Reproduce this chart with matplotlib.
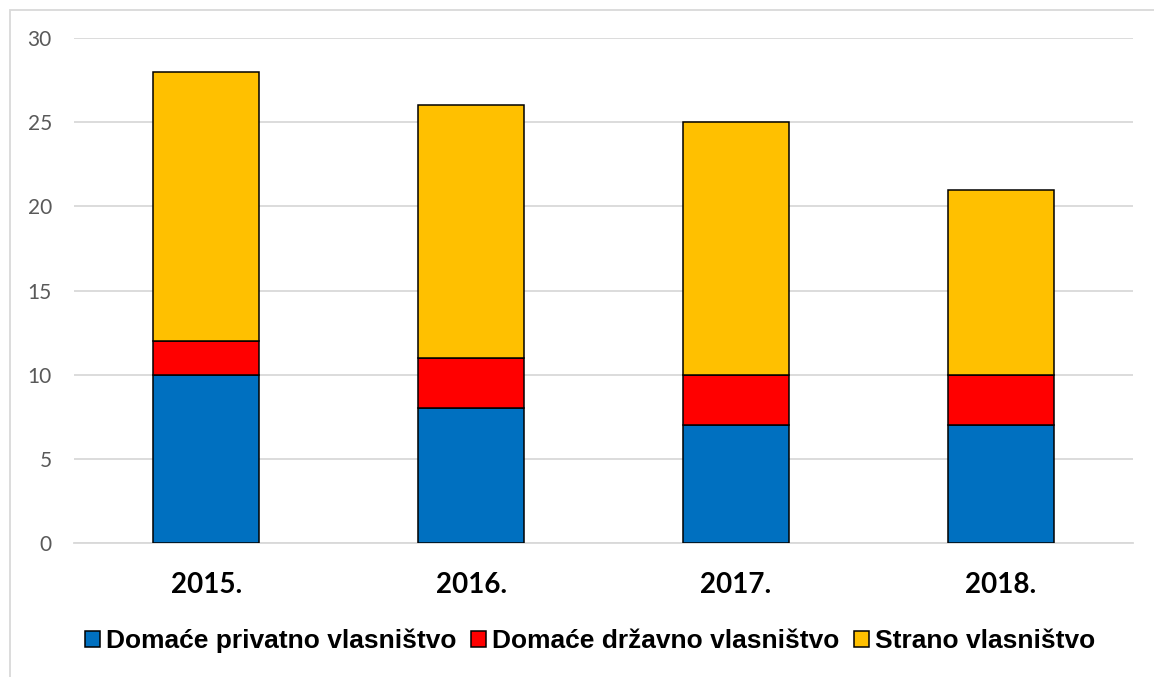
import matplotlib
matplotlib.use("Agg")
import matplotlib.pyplot as plt
from matplotlib.patches import Rectangle
import numpy as np

years = ["2015.", "2016.", "2017.", "2018."]
series_names = ["Domaće privatno vlasništvo", "Domaće državno vlasništvo", "Strano vlasništvo"]
privatno = [10, 8, 7, 7]
drzavno = [2, 3, 3, 3]
strano = [16, 15, 15, 11]
colors = ["#0070C0", "#FF0000", "#FFC000"]
yticks = [0, 5, 10, 15, 20, 25, 30]

W, H = 1154, 677
fig = plt.figure(figsize=(W / 100, H / 100), dpi=100)
ax = fig.add_axes([74 / W, 1 - 543 / H, (1133 - 74) / W, (543 - 38) / H])

x = np.arange(len(years))
bottom = np.zeros(len(years))
for vals, name, c in zip([privatno, drzavno, strano], series_names, colors):
    ax.bar(x, vals, width=0.4, bottom=bottom, color=c, edgecolor="black",
           linewidth=1.1, label=name, zorder=3)
    bottom += np.array(vals)

ax.set_xlim(-0.5, len(years) - 0.5)
ax.set_ylim(0, 30)
ax.set_yticks(yticks)
ax.yaxis.grid(True, color="#d9d9d9", linewidth=1.3, zorder=0)
ax.set_axisbelow(True)
for s in ["top", "right", "left"]:
    ax.spines[s].set_visible(False)
ax.spines["bottom"].set_color("#d9d9d9")
ax.spines["bottom"].set_linewidth(1.3)
ax.tick_params(axis="y", length=0, pad=16, labelsize=15, labelcolor="#595959")
ax.tick_params(axis="x", length=0, pad=21)
for lab in ax.get_yticklabels():
    lab.set_fontfamily("Lato")
ax.set_xticks(x)
ax.set_xticklabels(years, fontfamily="Lato", fontweight="bold", fontsize=20, color="black")

leg = fig.legend(loc="center", bbox_to_anchor=(590.5 / W, 1 - 641 / H), ncol=3,
                 frameon=False, handlelength=0.55, handleheight=0.55,
                 handletextpad=0.25, columnspacing=0.55,
                 prop={"family": "Liberation Sans", "weight": "bold", "size": 19})

fig.patches.append(Rectangle((10 / W, -0.1), 1.2, 1.1 - 10 / H, transform=fig.transFigure,
                             fill=False, edgecolor="#d9d9d9", linewidth=1.3))

fig.savefig("out.png", dpi=100)
